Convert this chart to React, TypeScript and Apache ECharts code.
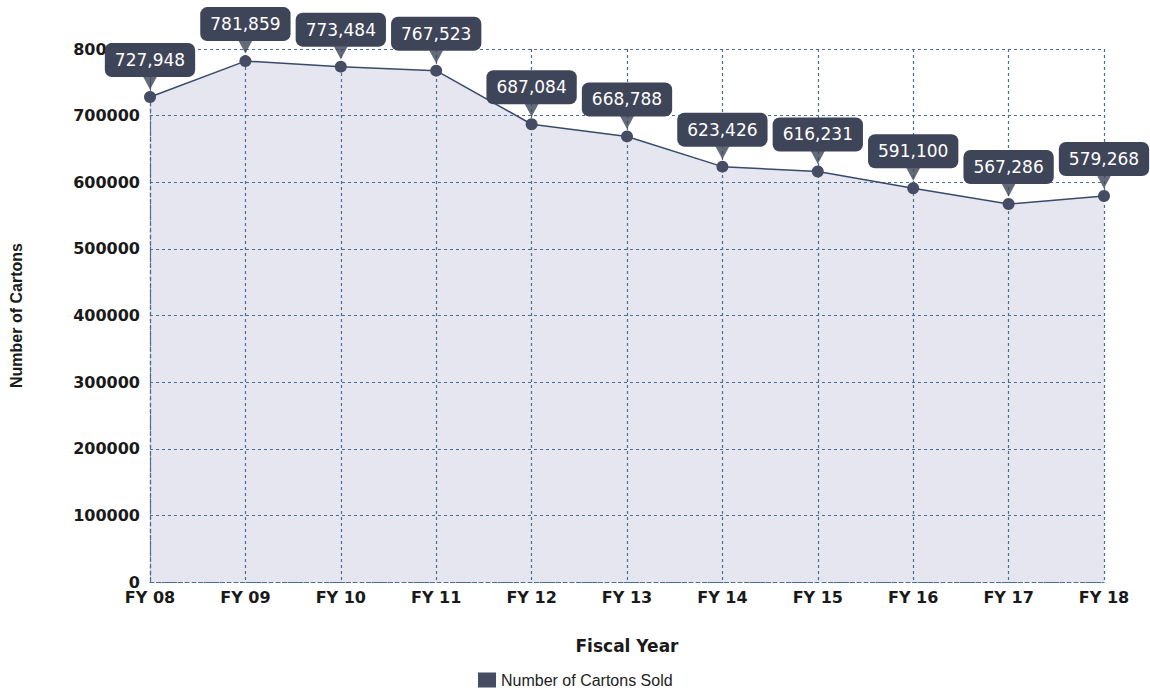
import React, { useEffect, useRef } from "react";
import * as echarts from "echarts";

const categories = ["FY 08", "FY 09", "FY 10", "FY 11", "FY 12", "FY 13", "FY 14", "FY 15", "FY 16", "FY 17", "FY 18"];
const cartons = [727948, 781859, 773484, 767523, 687084, 668788, 623426, 616231, 591100, 567286, 579268];
const seriesName = "Number of Cartons Sold";
const xTitle = "Fiscal Year";
const yTitle = "Number of Cartons";

export default function App() {
  const ref = useRef<HTMLDivElement>(null);
  useEffect(() => {
    const chart = echarts.init(ref.current!, null, { renderer: "svg" });
    const gridColor = "#4a6f96";
    const font = "DejaVu Sans, Liberation Sans, sans-serif";
    chart.setOption({
      animation: false,
      backgroundColor: "#ffffff",
      textStyle: { fontFamily: font },
      grid: { left: 150, right: 46, top: 49, bottom: 112 },
      legend: {
        data: [{ name: seriesName, icon: "rect" }],
        left: 478,
        top: 672,
        padding: 0,
        itemWidth: 18,
        itemHeight: 15,
        itemGap: 6,
        textStyle: { fontSize: 16, color: "#222", fontFamily: "Liberation Sans, Arial, sans-serif" },
      },
      xAxis: {
        type: "category",
        data: categories,
        boundaryGap: false,
        z: 2,
        name: xTitle,
        nameLocation: "middle",
        nameGap: 55,
        nameTextStyle: { fontSize: 17, fontWeight: "bold", color: "#1a1a1a", fontFamily: font },
        axisLine: { lineStyle: { color: gridColor, type: [4, 3], width: 1.2 } },
        axisTick: { show: false },
        axisLabel: { fontSize: 16, fontWeight: "bold", color: "#1a1a1a", margin: 7, fontFamily: font },
        splitLine: { show: true, lineStyle: { color: gridColor, type: [3, 3], width: 1.2 } },
      },
      yAxis: {
        type: "value",
        min: 0,
        max: 800000,
        interval: 100000,
        z: 2,
        name: yTitle,
        nameLocation: "middle",
        nameGap: 126,
        nameTextStyle: {
          fontSize: 16,
          fontWeight: "bold",
          color: "#1a1a1a",
          fontFamily: "Liberation Sans Narrow, Liberation Sans, Arial, sans-serif",
        },
        axisLine: { show: true, lineStyle: { color: gridColor, type: [4, 3], width: 1.2 } },
        axisTick: { show: false },
        axisLabel: {
          fontSize: 16,
          fontWeight: "bold",
          color: "#1a1a1a",
          margin: 10,
          fontFamily: font,
          formatter: (v: number) => String(v),
        },
        splitLine: { show: true, lineStyle: { color: gridColor, type: [3, 3], width: 1.2 } },
      },
      series: [
        {
          name: "area",
          type: "line",
          data: cartons,
          z: 1,
          symbol: "none",
          lineStyle: { width: 0 },
          areaStyle: { color: "#e5e6ef", opacity: 1 },
          silent: true,
        },
        {
          name: seriesName,
          type: "line",
          data: cartons,
          z: 3,
          color: "#474d66",
          symbol: "circle",
          symbolSize: 12,
          itemStyle: { color: "#454c64" },
          lineStyle: { color: "#3a4a68", width: 1.5 },
          label: {
            show: true,
            position: "top",
            distance: 14,
            formatter: (p: any) => Number(p.value).toLocaleString("en-US"),
            backgroundColor: "#3f4558",
            borderRadius: 7,
            padding: [8, 10],
            color: "#ffffff",
            fontSize: 17,
            lineHeight: 18,
            fontFamily: font,
          },
        },
        {
          name: "pointer",
          type: "scatter",
          data: cartons,
          z: 4,
          symbol: "path://M0,0L12,0L6,11Z",
          symbolSize: [14, 13],
          symbolOffset: [0, -14],
          itemStyle: { color: "#3f4558" },
          silent: true,
        },
      ],
    });
    return () => chart.dispose();
  }, []);
  return <div ref={ref} style={{ position: "fixed", left: 0, top: 0, width: 1150, height: 694 }} />;
}
